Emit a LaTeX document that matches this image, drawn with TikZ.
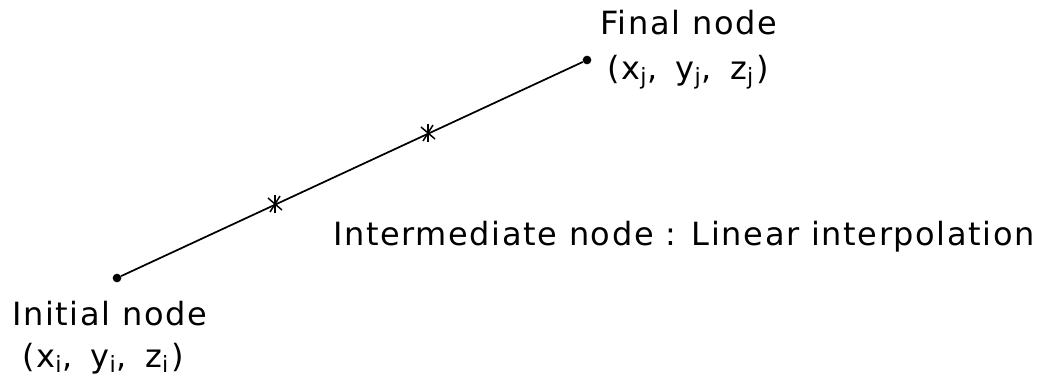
\documentclass[tikz,border=0pt]{standalone}
\usepackage{fontspec}
\setmainfont{DejaVu Sans}[LetterSpace=5]
\newcommand{\crd}[1]{(x$_\mathrm{#1}$,\kern5pt\ y$_\mathrm{#1}$,\kern5pt\ z$_\mathrm{#1}$\kern2pt)}
\begin{document}
\begin{tikzpicture}[x=0.75pt,y=-0.75pt,
  lbl/.style={inner sep=0pt,anchor=base west,font=\fontsize{24}{28}\selectfont},
  dotnode/.style={circle,fill=black,inner sep=0pt,minimum size=6.5pt},
  conn/.style={line width=1.3pt}]
\useasboundingbox (0,0) rectangle (1048,387);
\node[dotnode] (init) at (117,278) {};
\node[dotnode] (final) at (587,60) {};
\draw[conn] (init) -- (final);
\coordinate (m1) at (275,204);
\coordinate (m2) at (428,133);
\foreach \m in {m1,m2}{
  \draw[line width=1.1pt] ([shift={(-7,-6)}]\m) -- ([shift={(7,6)}]\m);
  \draw[line width=1.1pt] ([shift={(-5,8)}]\m) -- ([shift={(5,-8)}]\m);
  \draw[line width=1.1pt] ([shift={(0,-9)}]\m) -- ([shift={(0,9)}]\m);
}
\node[lbl] (ftxt) at (600,34) {Final node};
\node[lbl] (fcoord) at (607,79) {\crd{j}};
\node[lbl] (mtxt) at (333,245) {Intermediate node : Linear interpolation};
\node[lbl] (itxt) at (12,325) {Initial node};
\node[lbl] (icoord) at (22,367) {\crd{i}};
\end{tikzpicture}
\end{document}
